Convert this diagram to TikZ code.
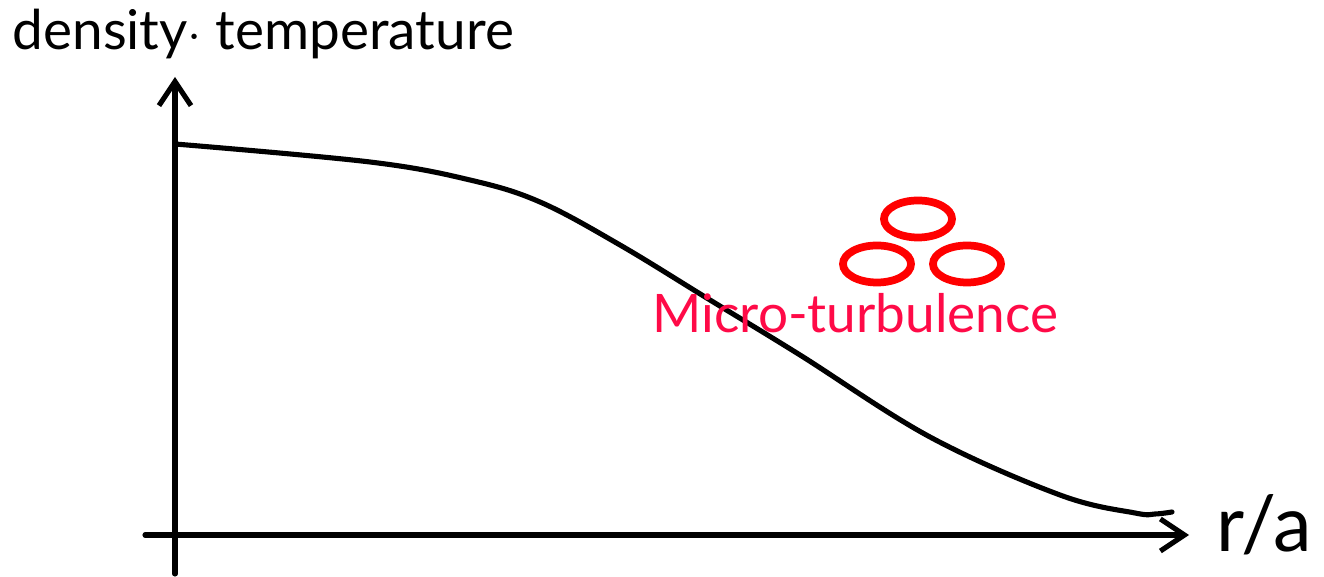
\documentclass[tikz,border=0pt]{standalone}
\usepackage{fontspec}
\setmainfont{Lato}
\usetikzlibrary{arrows.meta, shapes.geometric}

\begin{document}
\begin{tikzpicture}[x=0.01cm, y=-0.01cm, line cap=round,
    axis/.style={line width=1.45pt, -{Straight Barb[length=0.24cm, width=0.32cm, line width=1.45pt]}},
    eddy/.style={draw=red, line width=2.2pt, ellipse, minimum width=0.68cm, minimum height=0.37cm, inner sep=0pt}]
  \useasboundingbox (0,0) rectangle (1324,577);
  % axes
  \coordinate (ybot) at (175,574);
  \coordinate (ytop) at (175,77);
  \coordinate (xleft) at (145,535);
  \coordinate (xright) at (1189,535);
  \draw[axis] (ybot) -- (ytop);
  \draw[axis] (xleft) -- (xright);
  \node (ylab) [anchor=base west, inner sep=0pt, font=\fontsize{15.6}{17}\selectfont] at (12,50) {density$\cdot$ temperature};
  \node (xlab) [anchor=base west, inner sep=0pt, font=\fontsize{22}{24}\selectfont] at (1216,552) {r/a};
  % profile
  \draw[line width=1.45pt] plot[smooth, tension=0.6] coordinates {(175,144) (370,162) (470,180) (540,202) (620,245) (710,300) (800,355) (930,437) (1060,495) (1135,513) (1155,514) (1172,512)};
  % turbulent eddies
  \node (e1) [eddy] at (918,219) {};
  \node (e2) [eddy] at (877,264) {};
  \node (e3) [eddy] at (967,264) {};
  \node (mt) [anchor=base west, inner sep=0pt, text={rgb,255:red,255;green,10;blue,71}, font=\fontsize{15.1}{17}\selectfont] at (652,333) {Micro-turbulence};
\end{tikzpicture}
\end{document}
